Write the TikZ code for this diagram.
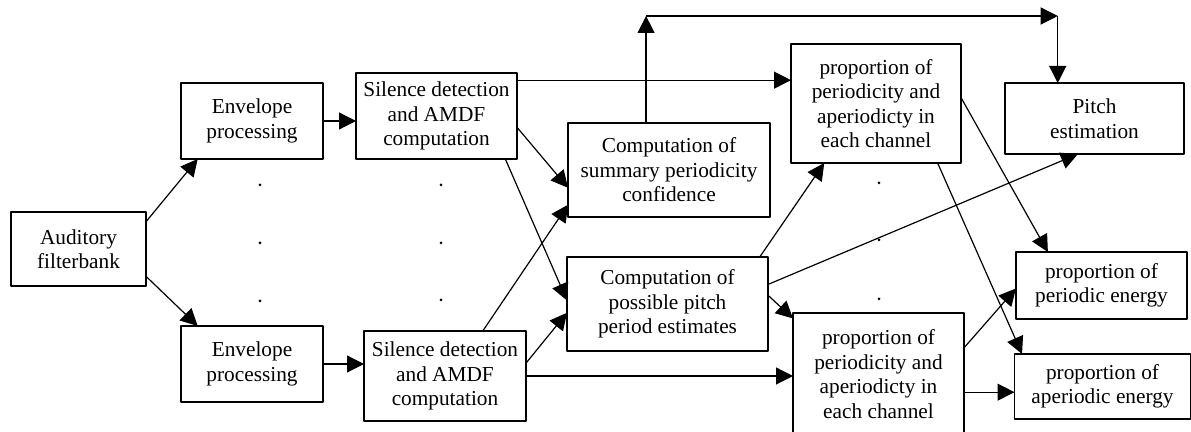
\documentclass[tikz,border=0pt]{standalone}
\usepackage{fontspec}
\setmainfont{Liberation Serif}
\usetikzlibrary{arrows.meta}
\begin{document}
\begin{tikzpicture}[x=0.5pt,y=-0.5pt,>={Triangle[length=8.5pt,width=8.5pt]},line join=round,line width=0.6pt,font=\fontsize{10.65}{12.25}\selectfont,
blk/.style={draw,align=center,inner sep=0pt,outer sep=0pt}]
\useasboundingbox (0,0) rectangle (1191,432);
% blocks
\node[blk,minimum width=67.5pt,minimum height=37pt] (filt) at (78.5,249) {Auditory\\filterbank};
\node[blk,minimum width=71pt,minimum height=38pt] (env1) at (252,121) {Envelope\\processing};
\node[blk,minimum width=71pt,minimum height=38pt] (env2) at (252,364) {Envelope\\processing};
\node[blk,minimum width=80.5pt,minimum height=43pt] (sil1) at (436.5,116) {Silence detection\\and AMDF\\computation};
\node[blk,minimum width=81pt,minimum height=45pt] (sil2) at (445,376) {Silence detection\\and AMDF\\computation};
\node[blk,minimum width=101pt,minimum height=47pt] (summ) at (669,170) {Computation of\\summary periodicity\\confidence};
\node[blk,minimum width=100.5pt,minimum height=47pt] (poss) at (667.5,304) {Computation of\\possible pitch\\period estimates};
\node[blk,minimum width=85pt,minimum height=59.5pt] (prop1) at (876,103.5) {proportion of\\periodicity and\\aperiodicty in\\each channel};
\node[blk,minimum width=85.5pt,minimum height=61pt] (prop2) at (878.5,374) {proportion of\\periodicity and\\aperiodicty in\\each channel};
\node[blk,minimum width=89.5pt,minimum height=35.5pt] (pitch) at (1094.5,118.5) {Pitch\\estimation};
\node[blk,minimum width=85.5pt,minimum height=33.5pt] (peri) at (1101.5,285.5) {proportion of\\periodic energy};
\node[blk,minimum width=88pt,minimum height=32.5pt] (aper) at (1102.5,386.5) {proportion of\\aperiodic energy};
% channel dots
\foreach \cx/\cy in {260/185,260/243,260/301,441/185,441/243,441/300,879/183,879/240,879/299} \fill (\cx,\cy) circle(0.75pt);
% connections
\draw[->] (filt.22)--(env1.215);
\draw[->] (filt.-22)--(env2.145);
\draw[->] (env1.east)--(env1.east -| sil1.west);
\draw[->] (env2.east)--(env2.east -| sil2.west);
\draw[->] (sil1.24)--(sil1.24 -| prop1.west);
\draw[->] (sil1.-8)--(summ.190);
\draw[->] (sil1.-32)--(poss.178);
\draw[->] (sil2.50)--(summ.199);
\draw[->] (sil2.9)--(poss.185);
\draw[->] (sil2.east)--(sil2.east -| prop2.west);
\coordinate (topy) at (0,16);
\path (summ.116 |- topy)coordinate(t1) (pitch.136 |- topy)coordinate(t2);
\draw[->] (summ.116)--(t1);
\draw[->] (t1)--(t2);
\draw[->] (t2)--(pitch.136);
\draw[->] (poss.27)--(prop1.229);
\draw[->] (poss.11)--(pitch.245);
\draw[->] (poss.5)--(prop2.147);
\draw[->] (prop1.4)--(peri.148);
\draw[->] (prop1.-44)--(aper.158);
\draw[->] (prop2.17)--(peri.182);
\draw[->] (prop2.-12.5)--(prop2.-12.5 -| aper.west);
\end{tikzpicture}
\end{document}
